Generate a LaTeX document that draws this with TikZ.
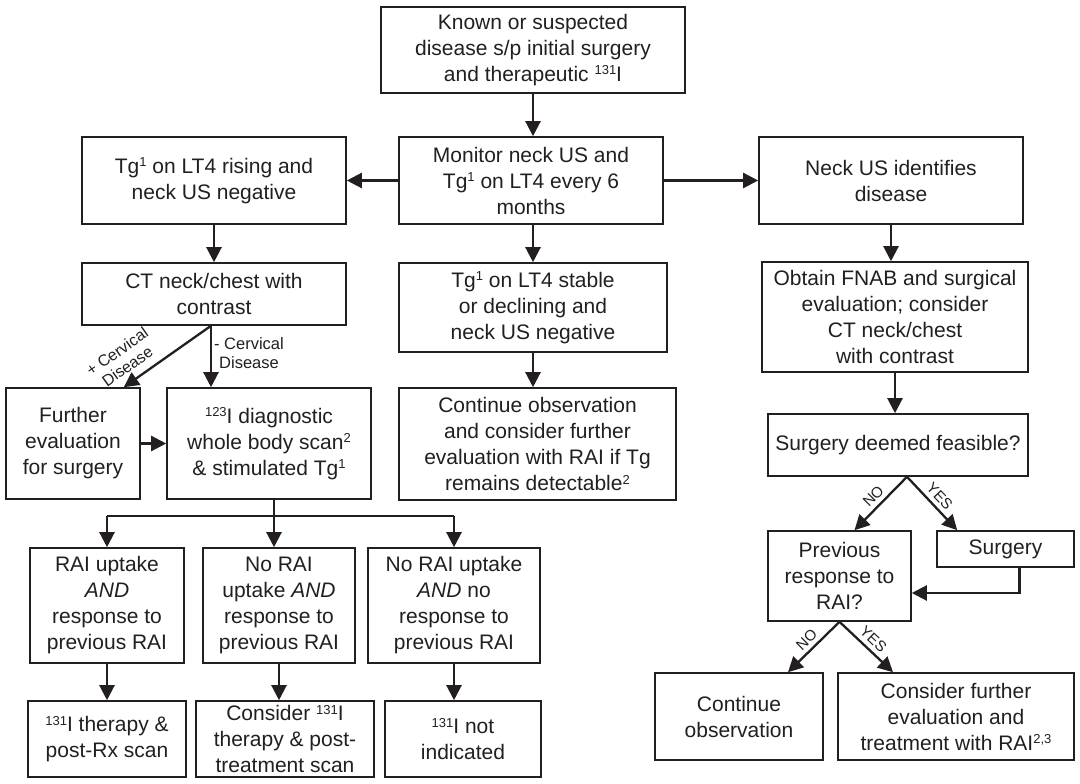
\documentclass[tikz,border=0pt]{standalone}
\usepackage{fontspec}
\setmainfont{Liberation Sans}
\usetikzlibrary{arrows.meta}
\definecolor{ink}{HTML}{231F20}
\newcommand\sups[1]{\raisebox{6.5pt}{\fontsize{13}{13}\selectfont #1}}
\newcommand\mybox[6]{\node[box,minimum width=#4pt,minimum height=#5pt] (#1) at (#2,#3) {#6};}
\begin{document}
\begin{tikzpicture}[x=1pt,y=-1pt,
  box/.style={draw=ink, line width=1.6pt, align=center, inner sep=0pt, text=ink,
    font=\fontsize{21}{26}\selectfont},
  arr/.style={draw=ink, line width=2.3pt, -{Triangle[length=15pt,width=15pt]}},
  ln/.style={draw=ink, line width=2.3pt},
  lab/.style={font=\fontsize{15}{16}\selectfont, text=ink, inner sep=2pt, align=center},
  clab/.style={font=\fontsize{16.5}{19}\selectfont, text=ink, inner sep=2pt, align=center}]
\useasboundingbox[fill=white] (0,0) rectangle (1080,784);
% boxes
\mybox{top}{533}{50}{304}{86}{Known or suspected\\disease s/p initial surgery\\and therapeutic \sups{131}I}
\mybox{mon}{531}{180.5}{264}{87}{Monitor neck US and\\Tg\sups{1} on LT4 every 6\\months}
\mybox{rise}{214}{180.5}{264}{87}{Tg\sups{1} on LT4 rising and\\neck US negative}
\mybox{nus}{891}{180.5}{264}{87}{Neck US identifies\\disease}
\mybox{ct}{214}{294}{264}{62}{CT neck/chest with\\contrast}
\mybox{stab}{533}{307.5}{268}{89}{Tg\sups{1} on LT4 stable\\or declining and\\neck US negative}
\mybox{fnab}{895}{317}{266}{110}{Obtain FNAB and surgical\\evaluation; consider\\CT neck/chest\\with contrast}
\mybox{furt}{73}{443.5}{134}{111}{Further\\evaluation\\for surgery}
\mybox{i123}{269}{443.5}{204}{111}{\sups{123}I diagnostic\\whole body scan\sups{2}\\\& stimulated Tg\sups{1}}
\mybox{cont}{537.5}{444}{277}{112}{Continue observation\\and consider further\\evaluation with RAI if Tg\\remains detectable\sups{2}}
\mybox{feas}{898}{445}{260}{62}{Surgery deemed feasible?}
\mybox{prev}{839.5}{576}{143}{90}{Previous\\response to\\RAI?}
\mybox{surg}{1005.5}{549}{137}{36}{Surgery}
\mybox{r1a}{107}{605.5}{154}{115}{RAI uptake\\\textit{AND}\\response to\\previous RAI}
\mybox{r1b}{279}{605.5}{152}{115}{No RAI\\uptake \textit{AND}\\response to\\previous RAI}
\mybox{r1c}{454}{605.5}{172}{115}{No RAI uptake\\\textit{AND} no\\response to\\previous RAI}
\mybox{r2a}{107}{739}{158}{76}{\sups{131}I therapy \&\\post-Rx scan}
\mybox{r2b}{285}{739}{178}{76}{Consider \sups{131}I\\therapy \& post-\\treatment scan}
\mybox{r2c}{463}{739}{156}{76}{\sups{131}I not\\indicated}
\mybox{cobs}{739}{716.5}{168}{87}{Continue\\observation}
\mybox{cfur}{956}{716.5}{236}{87}{Consider further\\evaluation and\\treatment with RAI\sups{2,3}}
% connectors
\draw[arr] (top.south) -- (top.south |- mon.north);
\draw[arr] (mon.west) -- (rise.east);
\draw[arr] (mon.east) -- (nus.west);
\draw[arr] (rise.south) -- (ct.north);
\draw[arr] (stab.north |- mon.south) -- (stab.north);
\draw[arr] (stab.south) -- (stab.south |- cont.north);
\draw[arr] (nus.south) -- (nus.south |- fnab.north);
\draw[arr] (fnab.south) -- (fnab.south |- feas.north);
% CT branches
\coordinate (cts) at ([xshift=-3pt]ct.south);
\draw[arr] (cts) -- (cts |- i123.north)
  node[clab, pos=0.45, anchor=west] {- Cervical\\Disease};
\draw[arr] (cts) -- ([xshift=-17pt]furt.north east)
  node[lab, pos=0.86, sloped, above=6pt, font=\fontsize{16}{18}\selectfont] {+ Cervical\\Disease};
\draw[arr] (furt.east) -- (i123.west);
% 123I split
\coordinate (sp) at (274,516);
\draw[ln] (sp |- i123.south) -- (sp);
\draw[ln] (r1a.north |- sp) -- (r1c.north |- sp);
\draw[arr] (sp) -- (sp |- r1b.north);
\draw[arr] (r1a.north |- sp) -- (r1a.north);
\draw[arr] (r1c.north |- sp) -- (r1c.north);
\draw[arr] (r1a.south) -- (r1a.south |- r2a.north);
\draw[arr] (r1b.south) -- (r1b.south |- r2b.north);
\draw[arr] (r1c.south) -- (r1c.south |- r2c.north);
% feasible branches
\coordinate (fs) at ([xshift=9pt]feas.south);
\draw[arr] (fs) -- ([xshift=15pt]prev.north) node[lab, midway, sloped, above=2pt] {NO};
\draw[arr] (fs) -- ([xshift=21pt]surg.north west) node[lab, midway, sloped, above=2pt] {YES};
\coordinate (ss) at ([xshift=14pt]surg.south);
\draw[arr] (ss) -- (ss |- 0,593) -- ([yshift=-17pt]prev.east);
% previous response branches
\draw[arr] (prev.south) -- ([xshift=49pt]cobs.north) node[lab, midway, sloped, above=2pt] {NO};
\draw[arr] (prev.south) -- ([xshift=-63pt]cfur.north) node[lab, midway, sloped, above=2pt] {YES};
\end{tikzpicture}
\end{document}
